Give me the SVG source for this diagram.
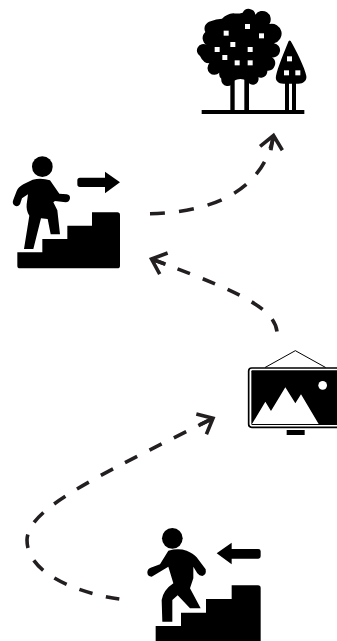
<svg xmlns="http://www.w3.org/2000/svg" width="337" height="641" viewBox="0 0 337 641">
<style>
.k{fill:#000}
.w{fill:#fff}
.l{fill:none;stroke:#000;stroke-linecap:round;stroke-linejoin:round}
.c{fill:none;stroke:#231f20;stroke-width:3.6}
.h{fill:none;stroke:#231f20;stroke-width:3.6}
</style>
<defs>
<marker id="a" markerUnits="userSpaceOnUse" markerWidth="36" markerHeight="36" refX="18" refY="18" orient="auto" overflow="visible">
<path class="h" d="M5 6.700L18 18L5 29.300M3 18H18" stroke-linejoin="miter"/>
</marker>
</defs>
<rect width="337" height="641" fill="#fff"/>
<g id="trees" transform="translate(190 0) scale(.33333)">
<g class="k">
<path d="M158 38A20 20 0 0 1 196 44A24 24 0 0 1 238 72A22 22 0 0 1 252 130A20 20 0 0 1 246 172A22 22 0 0 1 232 212A20 20 0 0 1 205 232A16 16 0 0 1 172 242Q150 232 132 242A18 18 0 0 1 94 236A18 18 0 0 1 88 218A20 20 0 0 1 58 190Q40 190 30 168A14 14 0 0 1 50 135A24 24 0 0 1 46 96A22 22 0 0 1 62 64Q78 56 96 56Q110 42 130 40Q145 42 158 38Z"/>
<rect x="121" y="225" width="13" height="110"/><rect x="163" y="225" width="14" height="110"/>
<rect x="285" y="240" width="12" height="95"/><rect x="306" y="240" width="12" height="95"/>
<rect x="35" y="330" width="308" height="12"/>
<path d="M302 123C318 150 345 205 349 228C351 242 340 251 325 251H280C265 251 255 242 258 228C262 205 285 150 296 123C298 121 300 121 302 123Z"/>
</g>
<g class="w">
<rect x="165" y="72" width="15" height="15"/><rect x="101" y="92" width="15" height="15"/><rect x="207" y="100" width="15" height="15"/><rect x="121" y="126" width="15" height="15"/><rect x="74" y="141" width="15" height="15"/><rect x="173" y="141" width="15" height="15"/><rect x="97" y="165" width="15" height="15"/><rect x="134" y="181" width="15" height="15"/><rect x="173" y="181" width="15" height="15"/>
<rect x="291" y="169" width="15" height="15"/><rect x="282" y="211" width="15" height="15"/><rect x="316" y="211" width="15" height="15"/>
</g>
</g>
<g id="climb" transform="translate(0 145) scale(.33333)">
<circle class="k" cx="127" cy="65" r="31"/>
<path class="k" d="M98 104Q125 98 150 106L178 146L200 148Q211 150 210 160Q208 172 197 172L165 168L160 172L172 196L180 268H152L143 222L123 220L100 312H72L88 212Q78 198 80 178L84 148L66 160L60 178Q52 188 42 180Q36 174 40 164L50 138Q55 126 70 118Z"/>
<path class="k" d="M240 98H315V80L360 112L315 145V126H240Q232 126 232 118V106Q232 98 240 98Z"/>
<path class="k" d="M52 322H127V282H202V242H276V202H352Q360 202 360 210V362Q360 370 352 370H60Q52 370 52 362Z"/>
</g>
<g id="picture" transform="translate(237 340) scale(.33333)">
<path class="l" stroke-width="3" d="M85 82L175 32L265 82"/>
<rect x="35" y="84" width="290" height="178" rx="9" fill="#fff" stroke="#000" stroke-width="5"/>
<rect class="k" x="43" y="91" width="280" height="164" rx="3"/>
<circle class="w" cx="257" cy="136" r="13"/>
<path class="w" d="M45 252L85 185L102 213L145 142L175 190L192 163L245 252Z"/>
<rect class="k" x="149" y="270" width="54" height="15"/>
</g>
<g id="descend" transform="translate(140 520) scale(.33333)">
<circle class="k" cx="97" cy="55" r="31"/>
<path class="k" d="M85 92Q115 84 140 92Q160 100 170 112L197 148Q200 165 187 168Q178 168 172 160L160 140L160 175L150 205L182 265H150L113 226L97 240L97 305H67L65 240Q70 210 100 190L85 140L35 170Q22 170 22 157Q22 147 32 143L60 133Z"/>
<path class="k" d="M275 68V87H355Q362 87 362 94V109Q362 116 355 116H275V133L230 100Z"/>
<path class="k" d="M47 318H123V278H198V237H275V196H354Q362 196 362 204V370H47Z"/>
</g>
<g id="connectors">
<path class="c" stroke-dasharray="15 14.200" marker-end="url(#a)" d="M150 213.700C195 213 262 200 273.500 135.500"/>
<path class="c" stroke-dasharray="13.300 13.800" marker-end="url(#a)" d="M277 331.500C274 308 240 292 151.500 259"/>
<path class="c" stroke-dasharray="13.700 13.700" marker-end="url(#a)" d="M119.300 599C90 595 27 578 27 540C28 510 85 482 213 418.300"/>
</g>
</svg>
